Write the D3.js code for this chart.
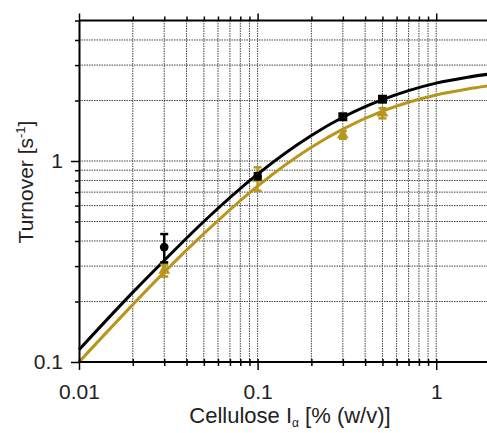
<!DOCTYPE html>
<html>
<head>
<meta charset="utf-8">
<script src="https://cdn.jsdelivr.net/npm/d3@7"></script>
<style>
  body { margin: 0; background: #fff; }
  svg { display: block; font-family: "Liberation Sans", Arial, sans-serif; }
</style>
</head>
<body>
<div id="chart"></div>
<script>
// ── Data ──
const conc = [0.03, 0.1, 0.3, 0.5];
const blackVals = [0.373, 0.84, 1.66, 2.03];
const blackErr  = [0.06, 0.03, 0.05, 0.06];
const blackShape = ['circle', 'circle', 'square', 'square'];
const goldVals = [0.286, 0.82, 1.35, 1.73];
const goldErr  = [0.02, 0.11, 0.06, 0.1];

// fitted curves
const curveX     = [0.01, 0.02, 0.03, 0.05, 0.1, 0.2, 0.3, 0.5, 0.7, 1, 1.5, 2];
const blackCurve = [0.115, 0.222, 0.32, 0.50, 0.86, 1.34, 1.65, 2.02, 2.24, 2.44, 2.61, 2.71];
const goldCurve  = [0.10, 0.193, 0.28, 0.435, 0.75, 1.17, 1.44, 1.77, 1.96, 2.13, 2.28, 2.37];

const xTickLabels = [0.01, 0.1, 1];
const yTickLabels = [0.1, 1];
const xGrid = [0.02, 0.03, 0.04, 0.05, 0.06, 0.07, 0.08, 0.09, 0.1,
               0.2, 0.3, 0.4, 0.5, 0.6, 0.7, 0.8, 0.9, 1, 2];
const yGrid = [0.2, 0.3, 0.4, 0.5, 0.6, 0.7, 0.8, 0.9, 1, 2, 3, 4, 5];

const black = '#000000';
const gold = '#b8961c';

const W = 487, H = 433;
const svg = d3.select('#chart').append('svg')
  .attr('width', W).attr('height', H);

const x = d3.scaleLog().domain([0.01, 2]).range([79, 490]);
const y = d3.scaleLog().domain([0.1, 5]).range([362, 20.5]);

// Grid
const grid = svg.append('g');
grid.selectAll('.gx').data(xGrid).enter().append('line')
  .attr('x1', d => x(d)).attr('x2', d => x(d))
  .attr('y1', y(0.1)).attr('y2', y(5))
  .attr('stroke', '#444').attr('stroke-width', 1)
  .attr('stroke-dasharray', '1.5,1');
grid.selectAll('.gy').data(yGrid).enter().append('line')
  .attr('x1', x(0.01)).attr('x2', W)
  .attr('y1', d => y(d)).attr('y2', d => y(d))
  .attr('stroke', '#444').attr('stroke-width', 1)
  .attr('stroke-dasharray', '1.5,1');

// Curves
function drawCurve(vals, color) {
  svg.append('path').datum(curveX.map((c, i) => ({ c, v: vals[i] })))
    .attr('fill', 'none').attr('stroke', color).attr('stroke-width', 3)
    .attr('d', d3.line().x(d => x(d.c)).y(d => y(d.v)).curve(d3.curveMonotoneX));
}
drawCurve(goldCurve, gold);
drawCurve(blackCurve, black);

// Points with error bars
function drawPoints(vals, errs, color, shapes) {
  const g = svg.append('g');
  conc.forEach((c, i) => {
    const cx = x(c), top = y(vals[i] + errs[i]), bot = y(vals[i] - errs[i]);
    g.append('line').attr('x1', cx).attr('x2', cx).attr('y1', top).attr('y2', bot)
      .attr('stroke', color).attr('stroke-width', 2.5);
    [top, bot].forEach(yy => g.append('line')
      .attr('x1', cx - 4).attr('x2', cx + 4).attr('y1', yy).attr('y2', yy)
      .attr('stroke', color).attr('stroke-width', 2.5));
    const shape = shapes[i];
    const sym = shape === 'circle' ? d3.symbolCircle
      : shape === 'square' ? d3.symbolSquare : d3.symbolTriangle;
    const size = shape === 'square' ? 80 : 60;
    g.append('path')
      .attr('d', d3.symbol().type(sym).size(size))
      .attr('transform', `translate(${cx},${y(vals[i])})`)
      .attr('fill', color);
  });
}
drawPoints(goldVals, goldErr, gold, conc.map(() => 'triangle'));
drawPoints(blackVals, blackErr, black, blackShape);

// Axes
const axisStyle = g => {
  g.selectAll('.domain').attr('stroke-width', 2);
  g.selectAll('line').attr('stroke-width', 1.5);
  g.selectAll('text').attr('font-size', 21).attr('fill', '#222')
    .attr('font-family', '"Liberation Sans", Arial, sans-serif');
};
const isMajor = v => Math.abs(Math.log10(v) - Math.round(Math.log10(v))) < 1e-6;

// bottom
const xb = svg.append('g').attr('transform', `translate(0,${y(0.1)})`)
  .call(d3.axisBottom(x).tickValues([0.01].concat(xGrid)).tickSizeOuter(0)
    .tickSize(0).tickFormat(d => xTickLabels.includes(d) ? d : ''));
xb.selectAll('.tick line').attr('y1', d => -3).attr('y2', d => isMajor(d) ? 8 : 4);
xb.selectAll('.tick text').attr('y', 22);
axisStyle(xb);
xb.select('.domain').attr('d', `M${x(0.01)},0H${W}`);

// top
const xt = svg.append('g').attr('transform', `translate(0,${y(5)})`)
  .call(d3.axisTop(x).tickValues([0.01].concat(xGrid)).tickSizeOuter(0)
    .tickSize(0).tickFormat(''));
xt.selectAll('.tick line').attr('y1', 0).attr('y2', d => isMajor(d) ? -7 : -4);
axisStyle(xt);
xt.select('.domain').attr('d', `M${x(0.01)},0H${W}`);

// left
const yl = svg.append('g').attr('transform', `translate(${x(0.01)},0)`)
  .call(d3.axisLeft(y).tickValues([0.1].concat(yGrid)).tickSizeOuter(0)
    .tickSize(0).tickFormat(d => yTickLabels.includes(d) ? d : ''));
yl.selectAll('.tick line').attr('x1', 0).attr('x2', d => isMajor(d) ? -8 : -4);
yl.selectAll('.tick text').attr('x', -16);
axisStyle(yl);

// Axis titles
svg.append('text')
  .attr('x', 290).attr('y', 423).attr('text-anchor', 'middle')
  .attr('font-size', 22).attr('fill', '#222')
  .html('Cellulose I<tspan dy="4" font-size="12">α</tspan><tspan dy="-4"> [% (w/v)]</tspan>');

svg.append('text')
  .attr('transform', 'translate(33,182) rotate(-90)')
  .attr('text-anchor', 'middle')
  .attr('font-size', 21).attr('fill', '#222')
  .html('Turnover [s<tspan dy="-8" font-size="13">-1</tspan><tspan dy="8">]</tspan>');
</script>
</body>
</html>
